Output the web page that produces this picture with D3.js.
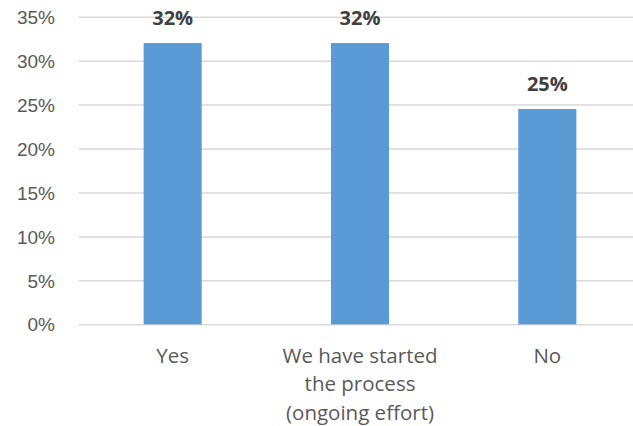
<!DOCTYPE html>
<html>
<head>
<meta charset="utf-8">
<script src="https://cdn.jsdelivr.net/npm/d3@7"></script>
<style>
  body { margin: 0; background: #fff; }
  svg { font-family: "Open Sans", sans-serif; }
</style>
</head>
<body>
<div id="chart"></div>
<script>
// data
var categories = [
  ['Yes'],
  ['We have started', 'the process', '(ongoing effort)'],
  ['No']
]
var values = [0.32, 0.32, 0.245]
var valueLabels = ['32%', '32%', '25%']
var yTicks = [0, 0.05, 0.1, 0.15, 0.2, 0.25, 0.3, 0.35]

var width = 633, height = 426
var svg = d3.select('#chart').append('svg')
  .attr('width', width).attr('height', height)

var x = d3.scaleBand().domain(d3.range(values.length)).range([79, 641]).paddingInner(0.69).paddingOuter(0.345)
var y = d3.scaleLinear().domain([0, 0.35]).range([324.3, 16.7])

// gridlines + y labels
var yAxis = d3.axisLeft(y).tickValues(yTicks).tickFormat(d3.format('.0%')).tickSize(-(641 - 79)).tickPadding(24)
svg.append('g').attr('transform', 'translate(79,0)').call(yAxis)
  .call(g => g.select('.domain').remove())
  .call(g => g.selectAll('line').attr('stroke', '#d9d9d9').attr('stroke-width', 1.5))
  .call(g => g.selectAll('text').attr('fill', '#595959').style('font-size', '19px').attr('dy', '0.35em'))

svg.selectAll('rect.bar').data(values).enter().append('rect')
  .attr('class', 'bar')
  .attr('x', (d, i) => x(i))
  .attr('width', x.bandwidth())
  .attr('y', d => y(d))
  .attr('height', d => y(0) - y(d))
  .attr('fill', '#5b9bd5')

svg.selectAll('text.val').data(values).enter().append('text')
  .attr('class', 'val')
  .attr('x', (d, i) => x(i) + x.bandwidth() / 2)
  .attr('y', d => y(d) - 18)
  .attr('text-anchor', 'middle')
  .attr('fill', '#404040')
  .style('font-size', '20px')
  .style('font-weight', 'bold')
  .text((d, i) => valueLabels[i])

var cat = svg.selectAll('text.cat').data(categories).enter().append('text')
  .attr('class', 'cat')
  .attr('text-anchor', 'middle')
  .attr('fill', '#595959')
  .style('font-size', '20.5px')
cat.selectAll('tspan').data((d, i) => d.map(t => ({t: t, i: i}))).enter().append('tspan')
  .attr('x', d => x(d.i) + x.bandwidth() / 2)
  .attr('y', (d, j) => 362.5 + j * 28.5)
  .text(d => d.t)
</script>
</body>
</html>
